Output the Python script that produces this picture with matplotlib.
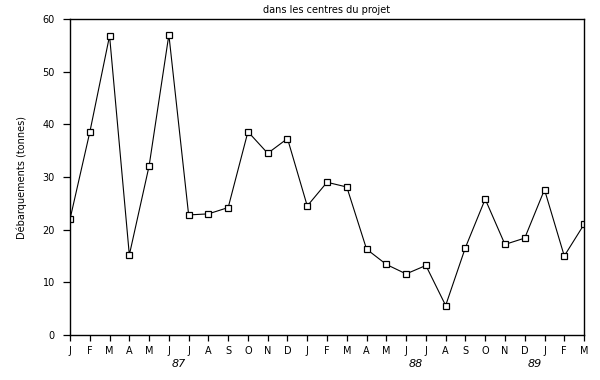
import numpy as np
import matplotlib.pyplot as plt
import matplotlib.transforms as mtransforms

# monthly landings, Jan 87 -> Mar 89
months = ['J', 'F', 'M', 'A', 'M', 'J', 'J', 'A', 'S', 'O', 'N', 'D',
          'J', 'F', 'M', 'A', 'M', 'J', 'J', 'A', 'S', 'O', 'N', 'D',
          'J', 'F', 'M']
landings = [22.0, 38.5, 56.8, 15.2, 32.1, 57.0, 22.8, 23.0, 24.2, 38.6, 34.5, 37.3,
            24.5, 29.0, 28.1, 16.3, 13.4, 11.6, 13.2, 5.6, 16.6, 25.8, 17.2, 18.4,
            27.6, 15.0, 21.0]
years = ['87', '88', '89']
year_pos = [5.5, 17.5, 23.5]
yticks = [0, 10, 20, 30, 40, 50, 60]

fig = plt.figure(figsize=(6, 3.8), dpi=100)
ax = fig.add_axes([0.1167, 0.1184, 0.8567, 0.8316])

x = np.arange(len(landings))
ax.plot(x, landings, '-', color='black', lw=0.8, marker='s', ms=5,
        mfc='white', mec='black', mew=0.9)

ax.set_xlim(0, len(landings) - 1)
ax.set_ylim(0, 60)
ax.set_xticks(x)
ax.set_xticklabels(months, fontsize=7)
ax.set_yticks(yticks)
ax.set_yticklabels([str(v) for v in yticks], fontsize=7)
ax.tick_params(axis='x', direction='out', length=4, width=0.9, pad=4)
ax.tick_params(axis='y', direction='out', length=5, width=0.9, pad=6)
for s in ax.spines.values():
    s.set_linewidth(1.0)

trans = mtransforms.blended_transform_factory(ax.transData, ax.transAxes)
for yr, p in zip(years, year_pos):
    ax.text(p, -0.075, yr, transform=trans, ha='center', va='top',
            fontsize=8, style='italic')

ax.set_ylabel('Débarquements (tonnes)', fontsize=7, labelpad=11)
ax.set_title('dans les centres du projet', fontsize=7, pad=4)

fig.savefig('out.png', dpi=100)
